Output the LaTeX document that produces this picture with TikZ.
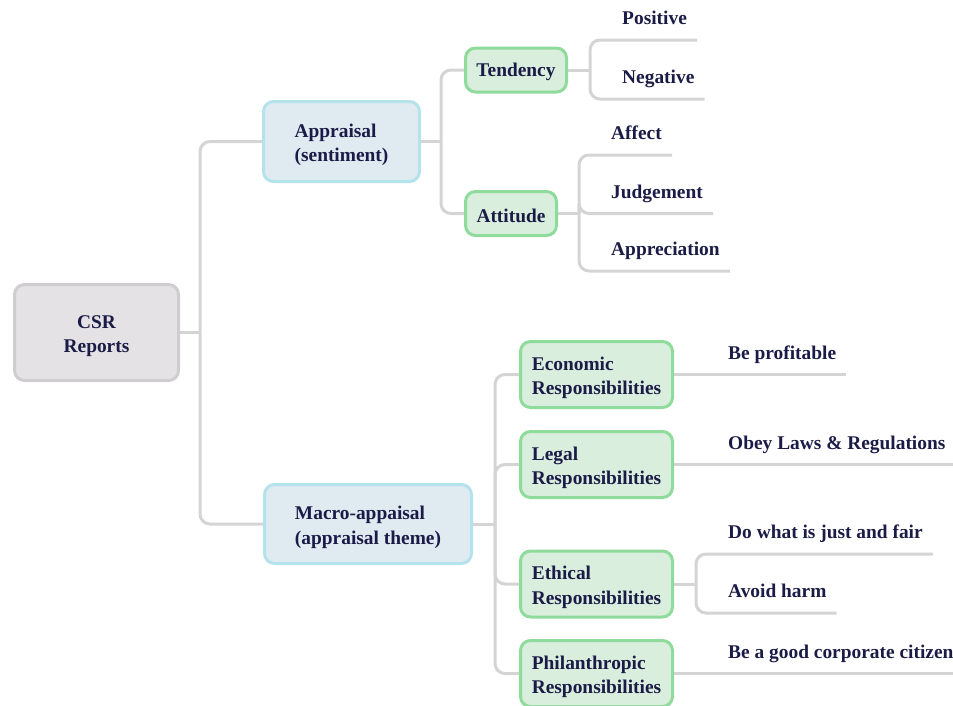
\documentclass[tikz,border=0pt]{standalone}
\usepackage{fontspec}
\setmainfont{Liberation Serif}
\usetikzlibrary{positioning, backgrounds}
\definecolor{ink}{HTML}{1B1B47}
\definecolor{rootfill}{HTML}{E4E2E4}
\definecolor{rootline}{HTML}{CFCDCF}
\definecolor{midfill}{HTML}{DFEAF1}
\definecolor{midline}{HTML}{B4E3EC}
\definecolor{subfill}{HTML}{DAEEDD}
\definecolor{subline}{HTML}{8EDB9B}
\definecolor{linkgray}{HTML}{D4D4D4}

\begin{document}
\begin{tikzpicture}[x=1pt, y=-1pt, font=\fontsize{19.4}{24.5}\selectfont\bfseries, text=ink,
  box/.style={draw, line width=3pt, rounded corners=10pt, align=left, inner sep=0pt,
    text height=45pt},
  root/.style={box, fill=rootfill, draw=rootline, align=center},
  mid/.style={box, fill=midfill, draw=midline},
  sub/.style={box, fill=subfill, draw=subline, minimum height=44pt, text height=18pt},
  resp/.style={sub, minimum width=152pt, minimum height=66pt, text height=45pt},
  leaf/.style={anchor=south west, inner xsep=10pt, inner ysep=15pt, text depth=0pt},
  link/.style={draw=linkgray, line width=3pt, rounded corners=10pt}]
\useasboundingbox (0,0) rectangle (953,705);
% boxes
\node[root, minimum width=164pt, minimum height=96pt] (csr) at (96.5,332.5) {CSR\\Reports};
\node[mid, minimum width=156pt, minimum height=80pt] (appr) at (341.5,141.5) {Appraisal\\(sentiment)};
\node[mid, minimum width=207pt, minimum height=79pt] (macro) at (368,524) {Macro-appaisal\\(appraisal theme)};
\node[sub, minimum width=101pt] (tend) at (516,70) {Tendency};
\node[sub, minimum width=91pt] (att) at (511,213.5) {Attitude};
\node[resp] (econ) at (596.5,374.5) {Economic\\Responsibilities};
\node[resp] (legal) at (596.5,464.5) {Legal\\Responsibilities};
\node[resp] (eth) at (596.5,584) {Ethical\\Responsibilities};
\node[resp] (phil) at (596.5,673.5) {Philanthropic\\Responsibilities};
% branch points
\coordinate[right=20pt of csr] (jcsr);
\coordinate[right=20pt of appr] (jappr);
\coordinate[right=22pt of macro] (jmacro);
\coordinate[right=22pt of tend] (jtend);
\coordinate[right=21pt of att] (jatt);
\coordinate[right=22pt of eth] (jeth);
% leaves
\node[leaf] (pos) at (612,40) {Positive};
\node[leaf] (neg) at (612,99) {Negative};
\node[leaf] (aff) at (601,155) {Affect};
\node[leaf] (judg) at (601,213.5) {Judgement};
\node[leaf] (apprec) at (601,271) {Appreciation};
\node[leaf] (prof) at (718,374.5) {Be profitable};
\node[leaf] (obey) at (718,464.5) {Obey Laws \& Regulations};
\node[leaf] (just) at (718,554) {Do what is just and fair};
\node[leaf] (harm) at (718,613) {Avoid harm};
\node[leaf] (citi) at (718,673.5) {Be a good corporate citizen};
% connectors
\begin{scope}[on background layer]
\draw[link] (csr.east) -- (jcsr);
\draw[link] (appr.west) -| (jcsr);
\draw[link] (macro.west) -| (jcsr);
\draw[link] (appr.east) -- (jappr);
\draw[link] (tend.west) -| (jappr);
\draw[link] (att.west) -| (jappr);
\draw[link] (tend.east) -- (jtend);
\draw[link] (jtend) |- (pos.south east);
\draw[link] (jtend) |- (neg.south east);
\draw[link] (att.east) -- (jatt);
\draw[link] (jatt) |- (aff.south east);
\draw[link] (jatt) |- (judg.south east);
\draw[link] (jatt) |- (apprec.south east);
\draw[link] (macro.east) -- (jmacro);
\draw[link] (econ.west) -| (jmacro);
\draw[link] (legal.west) -| (jmacro);
\draw[link] (eth.west) -| (jmacro);
\draw[link] (phil.west) -| (jmacro);
\draw[link] (econ.east) -- (prof.south east);
\draw[link] (legal.east) -- (obey.south east);
\draw[link] (eth.east) -- (jeth);
\draw[link] (jeth) |- (just.south east);
\draw[link] (jeth) |- (harm.south east);
\draw[link] (phil.east) -- (citi.south east);
\end{scope}
\end{tikzpicture}
\end{document}
